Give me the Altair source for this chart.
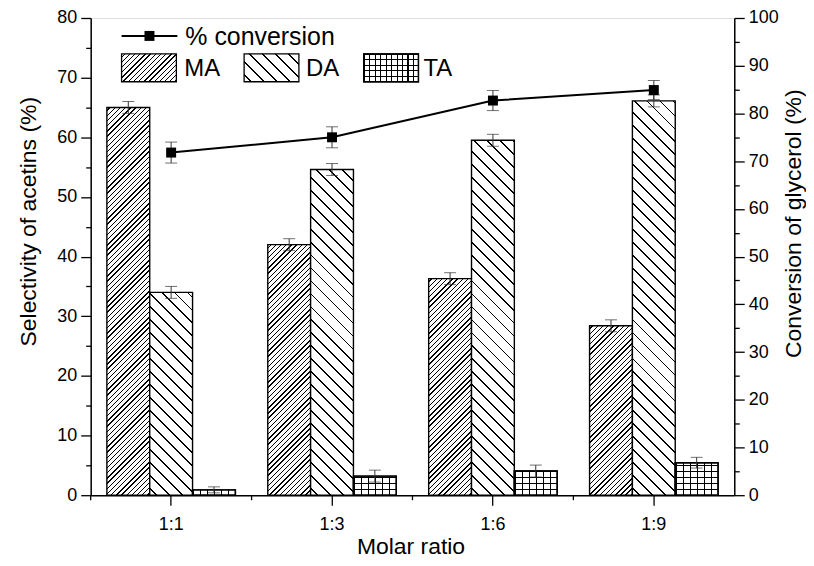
import altair as alt

# ---------------- data ----------------
ratios = ["1:1", "1:3", "1:6", "1:9"]
series = ["MA", "DA", "TA"]
ma_vals = [65.0, 42.0, 36.3, 28.4]
da_vals = [34.0, 54.6, 59.5, 66.1]
ta_vals = [0.9, 3.2, 4.05, 5.45]
ma_err = [1.0, 1.0, 1.0, 1.0]
da_err = [1.0, 1.0, 1.0, 1.0]
ta_err = [0.5, 1.0, 1.0, 0.9]
conv_vals = [71.8, 75.0, 82.7, 84.9]
conv_err = [2.2, 2.2, 2.1, 2.0]

# ---------------- layout / style ----------------
PLOT_W, PLOT_H = 646, 479
Y_MAX, Y2_MAX = 80, 100
PAD_OUTER = 0.378
STEP = PLOT_W / len(ratios)
BAR_W = STEP / (len(series) + 2 * PAD_OUTER)
FONT = "Liberation Sans"


def band_stops(L, period, thick, bg, fg, phase):
    stops = [{"offset": 0, "color": bg}]
    k = 0
    while True:
        s = (phase + k * period) / L
        if s >= 1:
            break
        e = min((phase + k * period + thick) / L, 1)
        s = max(s, 0)
        stops += [
            {"offset": s, "color": bg},
            {"offset": s, "color": fg},
            {"offset": e, "color": fg},
            {"offset": e, "color": bg},
        ]
        k += 1
    stops.append({"offset": 1, "color": bg})
    return stops


def diag(W, H, period, thick, kind):
    L = W + H
    a = L / (W * W + H * H)
    if kind == "/":
        x1, y1, x2, y2 = 0, 0, a * W, a * H
    else:
        x1, y1, x2, y2 = 0, 1, a * W, 1 - a * H
    return {"gradient": "linear", "x1": x1, "y1": y1, "x2": x2, "y2": y2,
            "stops": band_stops(L, period, thick, "white", "black", period / 2)}


def vlines(W, period, thick):
    phase = (W - period * int(W // period)) / 2
    return {"gradient": "linear", "x1": 0, "y1": 0, "x2": 1, "y2": 0,
            "stops": band_stops(W, period, thick, "white", "black", phase)}


def hlines(H, period, thick):
    return {"gradient": "linear", "x1": 0, "y1": 1, "x2": 0, "y2": 0,
            "stops": band_stops(H, period, thick, "rgba(0,0,0,0)", "black", period - thick / 2)}


MA_P, MA_T = 5.2, 1.4
DA_P, DA_T = 13.0, 1.8


def fills(name, value, W):
    H = max(value / Y_MAX * PLOT_H, 0.5)
    if name == "MA":
        return diag(W, H, MA_P, MA_T, "/"), None
    if name == "DA":
        return diag(W, H, DA_P, DA_T, "\\"), None
    return vlines(W, 7.0, 1.3), hlines(H, 6.0, 1.3)


records = []
for name, vals, errs in [("MA", ma_vals, ma_err), ("DA", da_vals, da_err), ("TA", ta_vals, ta_err)]:
    for r, v, e in zip(ratios, vals, errs):
        g1, g2 = fills(name, v, BAR_W)
        rec = {"ratio": r, "series": name, "value": v, "err": e, "grad": g1}
        if g2 is not None:
            rec["grad2"] = g2
        records.append(rec)
bar_data = alt.Data(values=records)
conv_data = alt.Data(values=[{"ratio": r, "conv": c, "err": e} for r, c, e in zip(ratios, conv_vals, conv_err)])
ratio_data = alt.Data(values=[{"ratio": r} for r in ratios])

# ---------------- scales / axes ----------------
x_scale = alt.Scale(domain=ratios, paddingInner=0, paddingOuter=0)
x_axis = alt.Axis(title="Molar ratio", labelAngle=0, tickSize=10, tickWidth=1.3, tickColor="black",
                  domainColor="black", domainWidth=1.5, labelColor="black", labelFontSize=18,
                  labelPadding=10, titleFontSize=23, titleFontWeight="normal", titleColor="black",
                  titleX=321, titleY=52, titleBaseline="middle", titleAlign="center", grid=False)
xo = alt.XOffset("series:N", scale=alt.Scale(domain=series, paddingInner=0, paddingOuter=PAD_OUTER))

major10 = "datum.value % 10 === 0"
yl_scale = alt.Scale(domain=[0, Y_MAX], nice=False, zero=True)
yl_axis = alt.Axis(title="Selectivity of acetins (%)", values=list(range(0, Y_MAX + 1, 5)),
                   labelExpr=f"{major10} ? datum.label : ''",
                   tickSize={"condition": {"test": major10, "value": 10}, "value": 5},
                   tickWidth=1.3, tickColor="black", domainColor="black", domainWidth=1.5,
                   labelColor="black", labelFontSize=18, labelPadding=4, labelOverlap=False,
                   labelFlush=False, titleFontSize=23, titleFontWeight="normal", titleColor="black",
                   titleX=-62, titleY=204, titleAngle=270, titleAlign="center",
                   titleBaseline="middle", grid=False)
yr_scale = alt.Scale(domain=[0, Y2_MAX], nice=False, zero=True)
yr_axis = alt.Axis(title="Conversion of glycerol (%)", orient="right", values=list(range(0, Y2_MAX + 1, 5)),
                   labelExpr=f"{major10} ? datum.label : ''",
                   tickSize={"condition": {"test": major10, "value": 10}, "value": 5},
                   tickWidth=1.3, tickColor="black", domainColor="black", domainWidth=1.5,
                   labelColor="black", labelFontSize=18, labelPadding=4, labelOverlap=False,
                   labelFlush=False, titleFontSize=23, titleFontWeight="normal", titleColor="black",
                   titleX=59, titleY=206, titleAngle=270, titleAlign="center",
                   titleBaseline="middle", grid=False)

X = alt.X("ratio:N", scale=x_scale, axis=x_axis, title="Molar ratio")

# ---------------- left (selectivity) layers ----------------
bars = alt.Chart(bar_data).mark_bar(stroke="black", strokeWidth=1.4).encode(
    x=X, xOffset=xo,
    y=alt.Y("value:Q", scale=yl_scale, axis=yl_axis, stack=None),
    fill=alt.Fill("grad:N", scale=None),
)
ta_over = alt.Chart(bar_data).transform_filter("datum.series === 'TA'").mark_bar(strokeWidth=0).encode(
    x=X, xOffset=xo,
    y=alt.Y("value:Q", scale=yl_scale, axis=yl_axis, stack=None),
    fill=alt.Fill("grad2:N", scale=None),
)
ta_frame = alt.Chart(bar_data).transform_filter("datum.series === 'TA'").mark_bar(
    fill="transparent", stroke="black", strokeWidth=1.4).encode(
    x=X, xOffset=xo,
    y=alt.Y("value:Q", scale=yl_scale, axis=yl_axis, stack=None),
)
err_base = alt.Chart(bar_data).transform_calculate(lo="datum.value - datum.err", hi="datum.value + datum.err")
err_rule = err_base.mark_rule(color="#333333", strokeWidth=1).encode(
    x=X, xOffset=xo, y=alt.Y("lo:Q", scale=yl_scale, axis=yl_axis), y2="hi:Q")
err_lo = err_base.mark_tick(color="#333333", size=12, thickness=1, orient="horizontal").encode(
    x=X, xOffset=xo, y=alt.Y("lo:Q", scale=yl_scale, axis=yl_axis))
err_hi = err_base.mark_tick(color="#333333", size=12, thickness=1, orient="horizontal").encode(
    x=X, xOffset=xo, y=alt.Y("hi:Q", scale=yl_scale, axis=yl_axis))
minor_x = alt.Chart(ratio_data).mark_rule(color="black", strokeWidth=1.3).encode(
    x=alt.X("ratio:N", scale=x_scale, axis=x_axis, bandPosition=0, title="Molar ratio"),
    y=alt.value(PLOT_H), y2=alt.value(PLOT_H + 5))

# ---------------- legend ----------------
LEG_W, LEG_H = 55, 28
leg_conv = alt.Chart(alt.Data(values=[{"label": "% conversion"}]))
leg_line = leg_conv.mark_rule(color="black", strokeWidth=2).encode(
    x=alt.value(31), x2=alt.value(87), y=alt.value(18))
leg_pt = leg_conv.mark_square(size=100, color="black", opacity=1).encode(
    x=alt.value(59), y=alt.value(18))
leg_conv_txt = leg_conv.mark_text(align="left", baseline="middle", fontSize=25, font=FONT, color="black").encode(
    x=alt.value(95), y=alt.value(19), text="label:N")

leg_layers = [leg_line, leg_pt, leg_conv_txt]
leg_pos = {"MA": (31, 94), "DA": (154, 216), "TA": (274, 334)}
for name in series:
    bx, tx = leg_pos[name]
    src = alt.Chart(alt.Data(values=[{"label": name}]))
    if name == "MA":
        f1, f2 = diag(LEG_W, LEG_H, MA_P, MA_T, "/"), None
    elif name == "DA":
        f1, f2 = diag(LEG_W, LEG_H, DA_P, DA_T, "\\"), None
    else:
        f1, f2 = vlines(LEG_W, 5.5, 1.3), hlines(LEG_H, 5.5, 1.3)
    pos = dict(x=alt.value(bx), x2=alt.value(bx + LEG_W), y=alt.value(36), y2=alt.value(36 + LEG_H))
    leg_layers.append(src.mark_rect(fill=f1, stroke="black", strokeWidth=1.3).encode(**pos))
    if f2 is not None:
        leg_layers.append(src.mark_rect(fill=f2, strokeWidth=0).encode(**pos))
        leg_layers.append(src.mark_rect(fill="transparent", stroke="black", strokeWidth=1.3).encode(**pos))
    leg_layers.append(src.mark_text(align="left", baseline="middle", fontSize=24, font=FONT, color="black").encode(
        x=alt.value(tx), y=alt.value(51), text="label:N"))

left = alt.layer(bars, ta_over, ta_frame, err_rule, err_lo, err_hi, minor_x, *leg_layers)

# ---------------- right (conversion) layers ----------------
Yc = alt.Y("conv:Q", scale=yr_scale, axis=yr_axis)
conv_line = alt.Chart(conv_data).mark_line(color="black", strokeWidth=2).encode(x=X, y=Yc)
conv_base = alt.Chart(conv_data).transform_calculate(lo="datum.conv - datum.err", hi="datum.conv + datum.err")
conv_rule = conv_base.mark_rule(color="#333333", strokeWidth=1).encode(
    x=X, y=alt.Y("lo:Q", scale=yr_scale, axis=yr_axis), y2="hi:Q")
conv_lo = conv_base.mark_tick(color="#333333", size=12, thickness=1, orient="horizontal").encode(
    x=X, y=alt.Y("lo:Q", scale=yr_scale, axis=yr_axis))
conv_hi = conv_base.mark_tick(color="#333333", size=12, thickness=1, orient="horizontal").encode(
    x=X, y=alt.Y("hi:Q", scale=yr_scale, axis=yr_axis))
conv_pts = alt.Chart(conv_data).mark_square(size=100, color="black", opacity=1).encode(x=X, y=Yc)

right = alt.layer(conv_line, conv_rule, conv_lo, conv_hi, conv_pts)

chart = alt.layer(left, right).resolve_scale(y="independent").properties(
    width=PLOT_W, height=PLOT_H,
    autosize=alt.AutoSizeParams(type="none"),
    padding={"left": 83, "top": 9, "right": 72, "bottom": 62},
    background="white",
).configure_view(stroke="black", strokeWidth=1.5).configure(font=FONT)

chart.save("out.html", embed_options={"renderer": "svg", "actions": False})
